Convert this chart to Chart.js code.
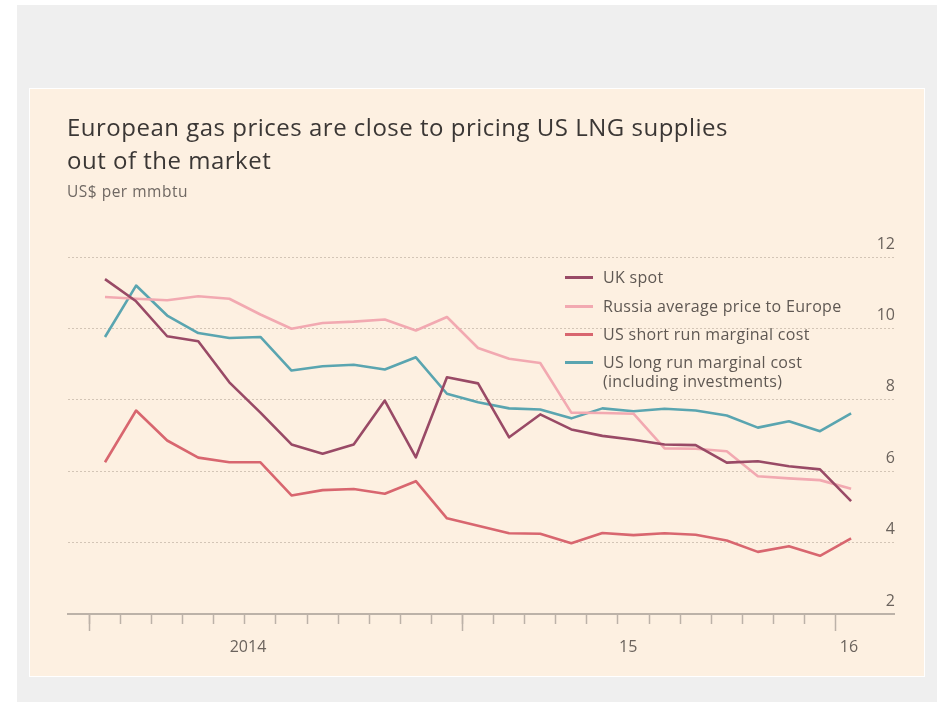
<!DOCTYPE html>
<html>
<head>
<meta charset="utf-8">
<script src="https://cdn.jsdelivr.net/npm/chart.js@4.4.0/dist/chart.umd.min.js"></script>
<style>
  html, body { margin: 0; padding: 0; width: 937px; height: 702px; overflow: hidden; background: #ffffff; font-family: 'Open Sans', sans-serif; }
  #bg { position: absolute; left: 17px; top: 5px; width: 920px; height: 697px; background: #efefef; }
  #panel { position: absolute; left: 30px; top: 89px; width: 894px; height: 587px; background: #fdf0e1; outline: 1px solid #ffffff; }
  #title { position: absolute; left: 37px; top: 21px; font-size: 24px; letter-spacing: 0.5px; line-height: 33px; color: #3b3735; white-space: nowrap; }
  #subtitle { position: absolute; left: 37px; top: 93px; font-size: 15.5px; letter-spacing: 0.5px; line-height: 18px; color: #6f6863; white-space: nowrap; }
  canvas { position: absolute; left: 0; top: 0; }
  .lg { position: absolute; left: 535px; font-size: 16px; letter-spacing: 0.3px; line-height: 19px; color: #5f5853; white-space: nowrap; }
  .lg .sw { position: absolute; left: 0; width: 28px; height: 3px; }
  .lg .tx { position: absolute; left: 38px; top: 0; }
</style>
</head>
<body>
<div id="bg"></div>
<div id="panel">
  <canvas id="c" width="894" height="587"></canvas>
  <div id="title">European gas prices are close to pricing US LNG supplies<br>out of the market</div>
  <div id="subtitle">US$ per mmbtu</div>
  <div id="legend"></div>
</div>
<script>
// ---- data ----
const months = ['Jan 2014','Feb 2014','Mar 2014','Apr 2014','May 2014','Jun 2014','Jul 2014','Aug 2014','Sep 2014','Oct 2014','Nov 2014','Dec 2014',
                'Jan 2015','Feb 2015','Mar 2015','Apr 2015','May 2015','Jun 2015','Jul 2015','Aug 2015','Sep 2015','Oct 2015','Nov 2015','Dec 2015','Jan 2016'];
const ukSpot   = [11.38, 10.76, 9.78, 9.64, 8.49, 7.64, 6.75, 6.49, 6.75, 7.98, 6.39, 8.63, 8.46, 6.95, 7.59, 7.17, 6.99, 6.88, 6.75, 6.73, 6.24, 6.28, 6.14, 6.05, 5.16];
const russia   = [10.88, 10.83, 10.79, 10.90, 10.83, 10.39, 9.99, 10.15, 10.19, 10.25, 9.94, 10.32, 9.45, 9.15, 9.03, 7.64, 7.63, 7.61, 6.64, 6.63, 6.56, 5.86, 5.80, 5.75, 5.51];
const usShort  = [6.25, 7.70, 6.86, 6.38, 6.25, 6.25, 5.32, 5.47, 5.50, 5.37, 5.72, 4.68, 4.47, 4.26, 4.25, 3.98, 4.27, 4.21, 4.26, 4.22, 4.06, 3.74, 3.90, 3.63, 4.12];
const usLong   = [9.76, 11.20, 10.36, 9.87, 9.73, 9.76, 8.82, 8.94, 8.98, 8.85, 9.19, 8.17, 7.93, 7.76, 7.73, 7.48, 7.76, 7.68, 7.75, 7.70, 7.56, 7.22, 7.40, 7.12, 7.62];
const seriesNames = ['UK spot', 'Russia average price to Europe', 'US short run marginal cost', 'US long run marginal cost\n(including investments)'];
const yTicks = [2, 4, 6, 8, 10, 12];
const yearLabels = ['2014', '15', '16'];
const yearLabelPos = [4.6, 16.83, 23.93];
const yearTickPos = [-0.5, 11.5, 23.5];

// ---- styling ----
const colors = ['#994a66', '#f2a9b1', '#d8666f', '#5aa5b0'];
const axisColor = '#bcb2a8';
const textColor = '#6b635d';
const gridColor = 'rgba(160,145,130,0.45)';

const seriesData = [ukSpot, russia, usShort, usLong];
const datasets = seriesData.map((arr, s) => ({
  label: seriesNames[s],
  data: arr.map((v, i) => ({ x: i, y: v })),
  borderColor: colors[s],
  borderWidth: 2.6,
  pointRadius: 0,
  tension: 0,
  fill: false,
  borderJoinStyle: 'round'
}));
const monthBoundaries = months.slice(0, months.length - 1).map((m, i) => i - 0.5);

// legend (HTML, real text)
const legendTops = [188.5, 217, 245.3, 273.3];
const lg = document.getElementById('legend');
seriesNames.forEach((name, i) => {
  const row = document.createElement('div');
  row.className = 'lg';
  row.style.top = (legendTops[i] - 9.5) + 'px';
  const sw = document.createElement('div');
  sw.className = 'sw';
  sw.style.background = colors[i];
  sw.style.top = '8px';
  const tx = document.createElement('div');
  tx.className = 'tx';
  tx.innerHTML = name.replace('\n', '<br>');
  row.appendChild(sw); row.appendChild(tx);
  lg.appendChild(row);
});

const X_MIN = -1.19, X_MAX = 25.38;
new Chart(document.getElementById('c'), {
  type: 'line',
  data: { datasets },
  options: {
    responsive: false,
    animation: false,
    devicePixelRatio: 1,
    layout: { padding: { left: 38, right: 28, top: 168, bottom: 52 } },
    plugins: { legend: { display: false }, tooltip: { enabled: false } },
    scales: {
      x: {
        type: 'linear', position: 'bottom', min: X_MIN, max: X_MAX,
        afterBuildTicks: (scale) => { scale.ticks = monthBoundaries.map(v => ({ value: v })); },
        ticks: { display: false },
        grid: { drawOnChartArea: false, drawTicks: true, tickLength: 10, tickColor: axisColor, tickWidth: 1.5 },
        border: { display: true, color: axisColor, width: 2 }
      },
      x2: {
        type: 'linear', position: { y: 2 }, min: X_MIN, max: X_MAX,
        afterBuildTicks: (scale) => { scale.ticks = yearTickPos.concat(yearLabelPos).map(v => ({ value: v })); },
        ticks: {
          autoSkip: false, maxRotation: 0, padding: 7,
          font: { family: "'Open Sans', sans-serif", size: 16 }, color: textColor,
          callback: (v) => { const i = yearLabelPos.indexOf(v); return i >= 0 ? yearLabels[i] : ''; }
        },
        grid: {
          drawOnChartArea: false, drawTicks: true, tickLength: 17, tickWidth: 1.5,
          tickColor: (ctx) => (ctx.tick && yearTickPos.indexOf(ctx.tick.value) >= 0) ? axisColor : 'rgba(0,0,0,0)'
        },
        border: { display: false }
      },
      y: {
        type: 'linear', position: 'right', min: 2, max: 12,
        afterBuildTicks: (scale) => { scale.ticks = yTicks.map(v => ({ value: v })); },
        ticks: {
          mirror: true, padding: 1, labelOffset: -13,
          font: { family: "'Open Sans', sans-serif", size: 16 }, color: textColor,
          callback: (v) => String(v)
        },
        grid: {
          drawTicks: false,
          color: (ctx) => (ctx.tick && ctx.tick.value === 2) ? 'rgba(0,0,0,0)' : gridColor,
          lineWidth: 1
        },
        border: { display: false, dash: [2, 2] }
      }
    }
  }
});
</script>
</body>
</html>
